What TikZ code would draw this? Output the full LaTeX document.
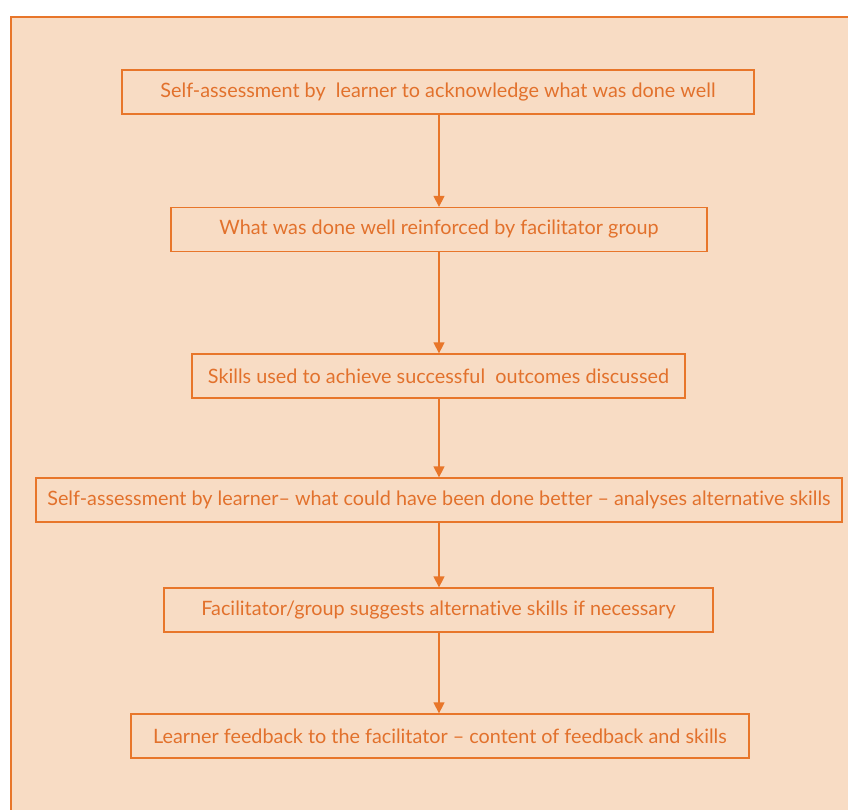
\documentclass[tikz,border=0pt]{standalone}
\usepackage{fontspec}
\setmainfont{Lato}[Ligatures={NoCommon,NoContextual}]
\usetikzlibrary{arrows.meta,positioning}
\definecolor{fborange}{HTML}{E8762A}
\definecolor{fbpeach}{HTML}{F8DCC4}
\definecolor{fbtext}{HTML}{E2712C}
\tikzset{fbstep/.style={draw=fborange,line width=1.3pt,fill=fbpeach,text=fbtext,font=\fontsize{19.8}{22}\selectfont,minimum height=44pt,inner sep=0pt},
fbarrow/.style={fborange,line width=1.3pt,-{Triangle[length=11pt,width=11pt]}}}

\begin{document}
\begin{tikzpicture}[x=1pt,y=-1pt]
\useasboundingbox (0,0) rectangle (848,809);
\fill[white] (0,0) rectangle (848,809);
\begin{scope}
\clip (0,0) rectangle (848,809);
\draw[fborange,fill=fbpeach,line width=2.6pt] (11,17) rectangle (880,840);
\end{scope}
\node[fbstep,minimum width=632pt] (s1) at (438,92) {Self-assessment by\ \ learner to acknowledge what was done well};
\node[fbstep,minimum width=536pt] (s2) at (439,229.5) {What was done well reinforced by facilitator group};
\node[fbstep,minimum width=493pt] (s3) at (438.5,376) {Skills used to achieve successful\ \ outcomes discussed};
\node[fbstep,minimum width=806pt] (s4) at (439,500) {Self-assessment by learner– what could have been done better – analyses alternative skills};
\node[fbstep,minimum width=549pt] (s5) at (438.5,610) {Facilitator/group suggests alternative skills if necessary};
\node[fbstep,minimum width=618pt] (s6) at (440,736) {Learner feedback to the facilitator – content of feedback and skills};
\foreach \a/\b in {s1/s2,s2/s3,s3/s4,s4/s5,s5/s6}{\draw[fbarrow] (\a.south-|439,0) -- (\b.north-|439,0);}
\end{tikzpicture}
\end{document}
